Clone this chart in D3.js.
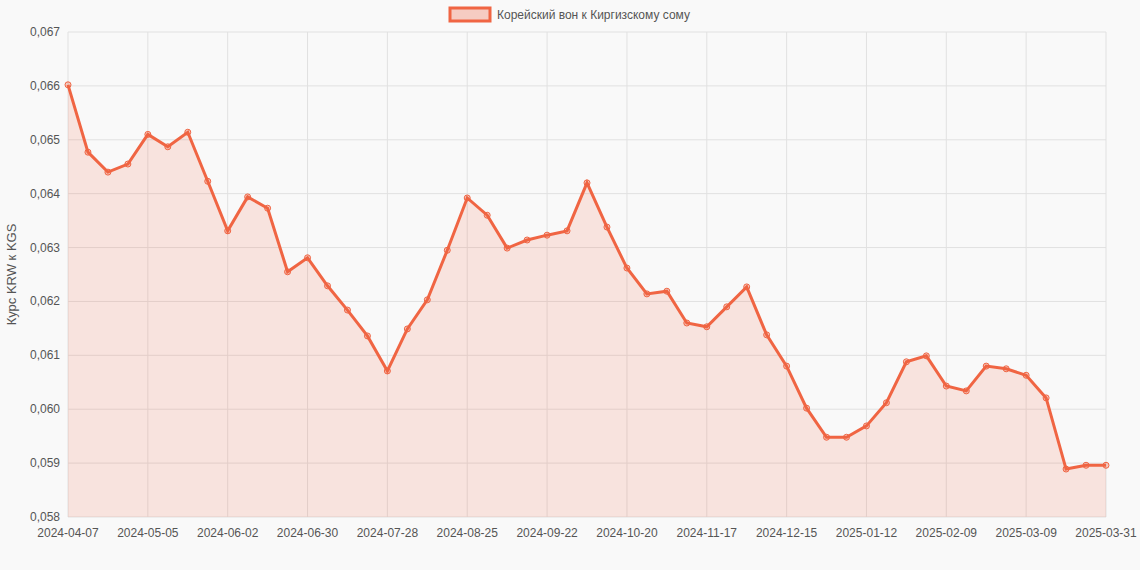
<!DOCTYPE html>
<html><head><meta charset="utf-8">
<script src="https://cdn.jsdelivr.net/npm/d3@7"></script>
<style>body{margin:0;background:#f9f9f9;font-family:"Liberation Sans",Arial,sans-serif}</style>
</head><body><svg id="c" width="1140" height="570"></svg>
<script>
const start = new Date(Date.UTC(2024,3,7));
const categories = [];
for (let i=0;i<52;i++){const d=new Date(start.getTime()+i*7*864e5);categories.push(d.toISOString().slice(0,10));}
categories.push("2025-03-31");
const values = [0.06602,0.06477,0.0644,0.06455,0.0651,0.06487,0.06514,0.06423,0.06331,0.06394,0.06373,0.06255,0.06281,0.06229,0.06184,0.06136,0.06071,0.06149,0.06203,0.06295,0.06392,0.0636,0.06299,0.06314,0.06323,0.06331,0.0642,0.06338,0.06262,0.06214,0.06219,0.0616,0.06153,0.0619,0.06227,0.06138,0.0608,0.06002,0.05948,0.05948,0.05969,0.06012,0.06088,0.06099,0.06043,0.06034,0.0608,0.06075,0.06063,0.06021,0.05889,0.05896,0.05896];
const yTicks = [0.058,0.059,0.060,0.061,0.062,0.063,0.064,0.065,0.066,0.067];
const seriesName = "Корейский вон к Киргизскому сому";
const yTitle = "Курс KRW к KGS";
const color = "#f06543";

const svg = d3.select("#c");
const L=68,R=1106,T=32,B=517;
const x = d3.scalePoint().domain(categories).range([L,R]);
const y = d3.scaleLinear().domain([0.058,0.067]).range([B,T]);
const xTicks = categories.filter((d,i)=>i%4===0||i===categories.length-1);
const fmt = v=>v.toFixed(3).replace(".",",");

const g = svg.append("g");
g.selectAll(".hy").data(yTicks).join("line").attr("x1",L).attr("x2",R).attr("y1",d=>y(d)).attr("y2",d=>y(d)).attr("stroke","#e1e1e1");
g.selectAll(".vx").data(xTicks).join("line").attr("x1",d=>x(d)).attr("x2",d=>x(d)).attr("y1",T).attr("y2",B).attr("stroke","#e1e1e1");
g.selectAll(".yl").data(yTicks).join("text").attr("x",L-8).attr("y",d=>y(d)+4).attr("text-anchor","end").attr("font-size",12).attr("fill","#555").text(fmt);
g.selectAll(".xl").data(xTicks).join("text").attr("x",d=>x(d)).attr("y",B+20).attr("text-anchor","middle").attr("font-size",12).attr("fill","#555").text(d=>d);
svg.append("text").attr("transform",`translate(16,${(T+B)/2}) rotate(-90)`).attr("text-anchor","middle").attr("font-size",13).attr("fill","#555").text(yTitle);

const area = d3.area().x((d,i)=>x(categories[i])).y0(B).y1(d=>y(d));
const line = d3.line().x((d,i)=>x(categories[i])).y(d=>y(d));
svg.append("path").attr("d",area(values)).attr("fill",color).attr("fill-opacity",0.15);
svg.append("path").attr("d",line(values)).attr("fill","none").attr("stroke",color).attr("stroke-width",3);
svg.selectAll(".pt").data(values).join("circle").attr("cx",(d,i)=>x(categories[i])).attr("cy",d=>y(d)).attr("r",3).attr("fill","rgba(240,101,67,0.3)").attr("stroke",color).attr("stroke-width",1);

svg.append("rect").attr("x",450).attr("y",8).attr("width",40).attr("height",13).attr("fill","rgba(240,101,67,0.3)").attr("stroke",color).attr("stroke-width",3);
svg.append("text").attr("x",497).attr("y",19).attr("font-size",12).attr("fill","#555").text(seriesName);
</script></body></html>
